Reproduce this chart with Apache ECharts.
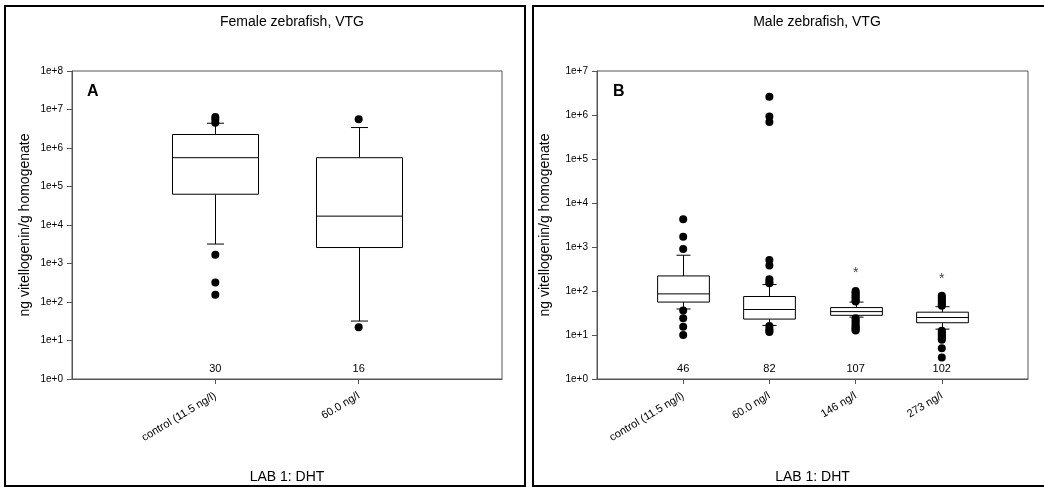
<!DOCTYPE html>
<html><head><meta charset="utf-8">
<script src="https://cdn.jsdelivr.net/npm/echarts@6/dist/echarts.min.js"></script>
<style>html,body{margin:0;padding:0;background:#fff}#c{width:1044px;height:487px}</style>
</head><body><div id="c"></div>
<script>
// ---- Data ----
var leftCategories = ['control (11.5 ng/l)', '60.0 ng/l'];
// [lower whisker, Q1, median, Q3, upper whisker]
var leftBoxes = [
  [3200, 63000, 560000, 2240000, 4400000],
  [32, 2600, 17000, 560000, 3400000]
];
var leftOutliers = [
  [6400000, 5500000, 4500000, 1700, 320, 155],
  [5600000, 22]
];
var leftCounts = [30, 16];

var rightCategories = ['control (11.5 ng/l)', '60.0 ng/l', '146 ng/l', '273 ng/l'];
var rightBoxes = [
  [39, 56, 86, 220, 650],
  [16.5, 23, 38, 75, 140],
  [25.5, 28, 34, 42, 56],
  [13.6, 19, 25, 33, 44]
];
var rightOutliers = [
  [4300, 1700, 900, 36, 24, 15.4, 10],
  [2600000, 930000, 690000, 505, 380, 185, 160, 150, 16, 13.6, 12.5, 11.7],
  [100, 92, 85, 78, 72, 66, 61, 58, 24, 22, 20, 18, 16.5, 15, 14, 13, 12.6],
  [78, 72, 66, 60, 55, 50, 46, 12.5, 11.5, 10.5, 9.7, 9, 8.3, 7.8, 5.0, 3.1]
];
var rightCounts = [46, 82, 107, 102];
var rightStars = [null, null, 260, 185];

var yTitle = 'ng vitellogenin/g homogenate';
var xTitle = 'LAB 1: DHT';
var leftTitle = 'Female zebrafish, VTG';
var rightTitle = 'Male zebrafish, VTG';

// ---- Build ----
var FONT = 'Liberation Sans, Arial, sans-serif';
var AXC = '#555';

function padCats(c){ return [''].concat(c).concat(['']); }
function boxData(b){ return b.map(function(v,i){ return [i+1].concat(v); }); }
function outData(o){ var r=[]; o.forEach(function(arr,i){ arr.forEach(function(v){ r.push([i+1, v]); }); }); return r; }
function countData(c){ return c.map(function(v,i){ return [i+1, v]; }); }
function starData(s){ var r=[]; s.forEach(function(v,i){ if(v!=null) r.push([i+1, v]); }); return r; }

function boxRender(capW){
  return function(params, api){
    var x = api.value(0);
    var lo = api.coord([x, api.value(1)]);
    var q1 = api.coord([x, api.value(2)]);
    var md = api.coord([x, api.value(3)]);
    var q3 = api.coord([x, api.value(4)]);
    var hi = api.coord([x, api.value(5)]);
    var band = api.size([1, 0])[0];
    var w = band * 0.6;
    var cx = Math.round(md[0]) + 0.5;
    var ls = {stroke:'#000', lineWidth:1};
    return {type:'group', children:[
      {type:'line', shape:{x1:cx, y1:q1[1], x2:cx, y2:lo[1]}, style:ls},
      {type:'line', shape:{x1:cx, y1:q3[1], x2:cx, y2:hi[1]}, style:ls},
      {type:'line', shape:{x1:cx-capW/2, y1:lo[1], x2:cx+capW/2, y2:lo[1]}, style:ls},
      {type:'line', shape:{x1:cx-capW/2, y1:hi[1], x2:cx+capW/2, y2:hi[1]}, style:ls},
      {type:'rect', shape:{x:cx-w/2, y:q3[1], width:w, height:q1[1]-q3[1]}, style:{fill:'#fff', stroke:'#000', lineWidth:1}},
      {type:'line', shape:{x1:cx-w/2, y1:md[1], x2:cx+w/2, y2:md[1]}, style:ls}
    ]};
  };
}
function countRender(params, api){
  var p = api.coord([api.value(0), 1]);
  var cs = params.coordSys;
  return {type:'text', x:p[0], y:cs.y + cs.height - 10,
    style:{text:String(api.value(1)), fill:'#000', font:'11px ' + FONT, align:'center', verticalAlign:'middle'}};
}
function starRender(params, api){
  var p = api.coord([api.value(0), api.value(1)]);
  return {type:'text', x:p[0], y:p[1],
    style:{text:'*', fill:'#444', font:'14px ' + FONT, align:'center', verticalAlign:'middle'}};
}

function xAxis(gi, cats){
  var n = cats.length + 2;
  return {type:'category', gridIndex:gi, data:padCats(cats), boundaryGap:false,
    axisLine:{show:true, lineStyle:{color:AXC, width:1}},
    axisTick:{show:true, inside:false, length:5, lineStyle:{color:AXC},
      interval:function(i){ return i>0 && i<n-1; }},
    axisLabel:{rotate:31, interval:0, fontSize:11, color:'#000', fontFamily:FONT, margin:16},
    splitLine:{show:false},
    name:xTitle, nameLocation:'middle', nameGap:91,
    nameTextStyle:{fontSize:14, color:'#000', fontFamily:FONT}};
}
function yAxis(gi, maxV, gap){
  return {type:'log', logBase:10, gridIndex:gi, min:1, max:maxV,
    axisLine:{show:true, lineStyle:{color:AXC, width:1}},
    axisTick:{show:true, inside:false, length:5, lineStyle:{color:AXC}},
    axisLabel:{fontSize:10, color:'#000', fontFamily:FONT, margin:9,
      formatter:function(v){ return '1e+' + Math.round(Math.log10(v)); }},
    splitLine:{show:false}, minorTick:{show:false},
    name:yTitle, nameLocation:'middle', nameGap:gap,
    nameTextStyle:{fontSize:14, color:'#000', fontFamily:FONT}};
}

var option = {
  animation:false,
  backgroundColor:'#fff',
  title:[
    {text:leftTitle, left:287, top:10, textAlign:'center', textStyle:{fontSize:14, fontWeight:'normal', color:'#000', fontFamily:FONT}},
    {text:rightTitle, left:812, top:10, textAlign:'center', textStyle:{fontSize:14, fontWeight:'normal', color:'#000', fontFamily:FONT}}
  ],
  grid:[
    {left:72, top:71, width:430, height:308, show:true, borderColor:AXC, borderWidth:1, backgroundColor:'transparent', containLabel:false, outerBoundsMode:'none'},
    {left:597, top:71, width:431, height:308, show:true, borderColor:AXC, borderWidth:1, backgroundColor:'transparent', containLabel:false, outerBoundsMode:'none'}
  ],
  xAxis:[xAxis(0, leftCategories), xAxis(1, rightCategories)],
  yAxis:[yAxis(0, 1e8, 40), yAxis(1, 1e7, 45)],
  graphic:[
    {type:'rect', shape:{x:5, y:6, width:520, height:480}, style:{fill:'none', stroke:'#000', lineWidth:2}, silent:true},
    {type:'rect', shape:{x:533, y:6, width:520, height:480}, style:{fill:'none', stroke:'#000', lineWidth:2}, silent:true},
    {type:'text', x:87, y:84, style:{text:'A', font:'bold 16px ' + FONT, fill:'#000'}},
    {type:'text', x:613, y:84, style:{text:'B', font:'bold 16px ' + FONT, fill:'#000'}}
  ],
  series:[
    {type:'custom', xAxisIndex:0, yAxisIndex:0, data:boxData(leftBoxes), renderItem:boxRender(17), encode:{x:0, y:[1,2,3,4,5]}, z:2},
    {type:'scatter', xAxisIndex:0, yAxisIndex:0, data:outData(leftOutliers), symbol:'circle', symbolSize:8, itemStyle:{color:'#000', opacity:1}, z:3},
    {type:'custom', xAxisIndex:0, yAxisIndex:0, data:countData(leftCounts), renderItem:countRender, encode:{x:0}, z:4},
    {type:'custom', xAxisIndex:1, yAxisIndex:1, data:boxData(rightBoxes), renderItem:boxRender(14), encode:{x:0, y:[1,2,3,4,5]}, z:2},
    {type:'scatter', xAxisIndex:1, yAxisIndex:1, data:outData(rightOutliers), symbol:'circle', symbolSize:8, itemStyle:{color:'#000', opacity:1}, z:3},
    {type:'custom', xAxisIndex:1, yAxisIndex:1, data:countData(rightCounts), renderItem:countRender, encode:{x:0}, z:4},
    {type:'custom', xAxisIndex:1, yAxisIndex:1, data:starData(rightStars), renderItem:starRender, encode:{x:0, y:1}, z:4}
  ]
};
var chart = echarts.init(document.getElementById('c'), null, {renderer:'canvas'});
chart.setOption(option);
</script>
</body></html>
